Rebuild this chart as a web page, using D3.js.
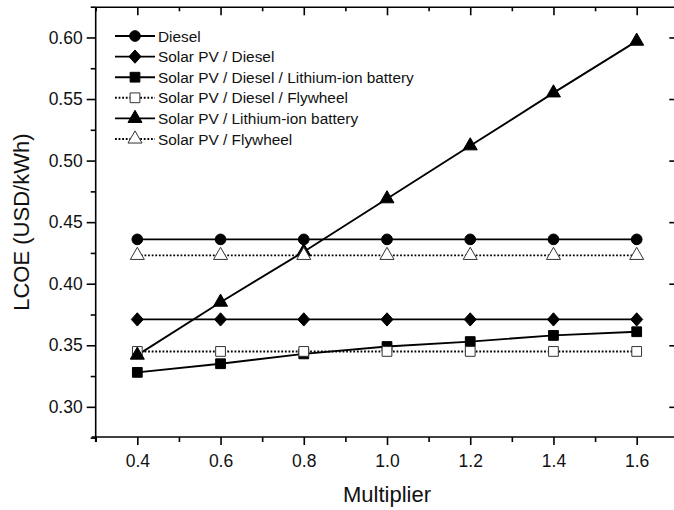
<!DOCTYPE html>
<html><head><meta charset="utf-8">
<script src="https://cdn.jsdelivr.net/npm/d3@7"></script>
<style>
html,body{margin:0;padding:0;background:#fff;}
svg{display:block;font-family:"Liberation Sans",Arial,sans-serif;}
</style></head>
<body>
<svg id="chart" width="674" height="510"></svg>
<script>
const multipliers = [0.4, 0.6, 0.8, 1.0, 1.2, 1.4, 1.6];
const diesel = [0.436, 0.436, 0.436, 0.436, 0.436, 0.436, 0.436];
const pvDiesel = [0.371, 0.371, 0.371, 0.371, 0.371, 0.371, 0.371];
const pvDieselLi = [0.328, 0.335, 0.343, 0.349, 0.353, 0.358, 0.361];
const pvDieselFly = [0.345, 0.345, 0.345, 0.345, 0.345, 0.345, 0.345];
const pvLi = [0.342, 0.385, 0.426, 0.469, 0.512, 0.555, 0.597];
const pvFly = [0.423, 0.423, 0.423, 0.423, 0.423, 0.423, 0.423];
const seriesNames = ["Diesel", "Solar PV / Diesel", "Solar PV / Diesel / Lithium-ion battery",
  "Solar PV / Diesel / Flywheel", "Solar PV / Lithium-ion battery", "Solar PV / Flywheel"];
const xTicks = [0.4, 0.6, 0.8, 1.0, 1.2, 1.4, 1.6];
const yTicks = [0.30, 0.35, 0.40, 0.45, 0.50, 0.55, 0.60];

const series = [
  {name: seriesNames[0], values: diesel, marker: "circle", fill: "#000", dotted: false},
  {name: seriesNames[1], values: pvDiesel, marker: "diamond", fill: "#000", dotted: false},
  {name: seriesNames[2], values: pvDieselLi, marker: "square", fill: "#000", dotted: false},
  {name: seriesNames[3], values: pvDieselFly, marker: "square", fill: "#fff", dotted: true},
  {name: seriesNames[4], values: pvLi, marker: "triangle", fill: "#000", dotted: false},
  {name: seriesNames[5], values: pvFly, marker: "triangle", fill: "#fff", dotted: true}
];

const svg = d3.select("#chart");
const L = 95.7, R = 678.3, T = 7.3, B = 437;
const x = d3.scaleLinear().domain([0.3, 1.7]).range([L, R]);
const y = d3.scaleLinear().domain([0.2755, 0.6245]).range([B, T]);

const xMinor = d3.range(0.3, 1.71, 0.1).map(v => +v.toFixed(2)).filter(v => !xTicks.some(t => Math.abs(t - v) < 1e-6));
const yMinor = d3.range(0.275, 0.626, 0.025).map(v => +v.toFixed(3)).filter(v => !yTicks.some(t => Math.abs(t - v) < 1e-6));

const fmt2 = d3.format(".2f"), fmt1 = d3.format(".1f");

function styleAxis(g){
  g.select(".domain").remove();
  g.selectAll("line").attr("stroke", "#000").attr("stroke-width", 1.6);
  g.selectAll("text").attr("fill", "#111").style("font-size", "17.5px").style("font-family", "'Liberation Sans', Arial, sans-serif");
}

// bottom axis
svg.append("g").attr("transform", `translate(0,${B})`)
  .call(d3.axisBottom(x).tickValues(xTicks).tickFormat(fmt1).tickSize(8).tickPadding(10)).call(styleAxis);
svg.append("g").attr("transform", `translate(0,${B})`)
  .call(d3.axisBottom(x).tickValues(xMinor).tickFormat("").tickSize(5)).call(styleAxis);
// top axis (inward)
svg.append("g").attr("transform", `translate(0,${T})`)
  .call(d3.axisBottom(x).tickValues(xTicks).tickFormat("").tickSize(8)).call(styleAxis);
svg.append("g").attr("transform", `translate(0,${T})`)
  .call(d3.axisBottom(x).tickValues(xMinor).tickFormat("").tickSize(4)).call(styleAxis);
// left axis
svg.append("g").attr("transform", `translate(${L},0)`)
  .call(d3.axisLeft(y).tickValues(yTicks).tickFormat(fmt2).tickSize(9).tickPadding(4)).call(styleAxis);
svg.append("g").attr("transform", `translate(${L},0)`)
  .call(d3.axisLeft(y).tickValues(yMinor).tickFormat("").tickSize(5)).call(styleAxis);
// right axis (inward)
svg.append("g").attr("transform", `translate(${R},0)`)
  .call(d3.axisLeft(y).tickValues(yTicks).tickFormat("").tickSize(9)).call(styleAxis);
svg.append("g").attr("transform", `translate(${R},0)`)
  .call(d3.axisLeft(y).tickValues(yMinor).tickFormat("").tickSize(4)).call(styleAxis);

// frame
svg.append("line").attr("x1", L - 4).attr("x2", R).attr("y1", B).attr("y2", B).attr("stroke", "#000").attr("stroke-width", 1.6);
svg.append("line").attr("x1", L).attr("x2", R).attr("y1", T).attr("y2", T).attr("stroke", "#000").attr("stroke-width", 1.6);
svg.append("line").attr("x1", L).attr("x2", L).attr("y1", T).attr("y2", B + 5).attr("stroke", "#000").attr("stroke-width", 1.6);
svg.append("line").attr("x1", R).attr("x2", R).attr("y1", T).attr("y2", B).attr("stroke", "#000").attr("stroke-width", 1.6);

// axis titles
svg.append("text").attr("x", 387).attr("y", 502).attr("text-anchor", "middle")
  .style("font-size", "22px").attr("fill", "#111").text("Multiplier");
svg.append("text").attr("transform", `translate(29,${(T + B) / 2}) rotate(-90)`).attr("text-anchor", "middle")
  .style("font-size", "22px").attr("fill", "#111").text("LCOE (USD/kWh)");

const diamondType = {draw(ctx, size){ const r = Math.sqrt(size / 2); ctx.moveTo(0, -r*1.05); ctx.lineTo(r*0.95, 0); ctx.lineTo(0, r*1.05); ctx.lineTo(-r*0.95, 0); ctx.closePath(); }};
const sym = {
  circle: d3.symbol().type(d3.symbolCircle).size(90),
  diamond: d3.symbol().type(diamondType).size(80),
  square: d3.symbol().type(d3.symbolSquare).size(95),
  triangle: d3.symbol().type(d3.symbolTriangle).size(85)
};

const line = d3.line().x((d, i) => x(multipliers[i])).y(d => y(d));
const plot = svg.append("g");
series.forEach(s => {
  plot.append("path").datum(s.values).attr("d", line).attr("fill", "none").attr("stroke", "#000")
    .attr("stroke-width", 1.9).attr("stroke-dasharray", s.dotted ? "1.8,1.8" : null);
});
series.forEach(s => {
  plot.selectAll(null).data(s.values).enter().append("path")
    .attr("d", sym[s.marker])
    .attr("transform", (d, i) => `translate(${x(multipliers[i])},${y(d)})`)
    .attr("fill", s.fill).attr("stroke", s.fill === "#fff" ? "#333" : "#000").attr("stroke-width", 1);
});

// legend
const leg = svg.append("g").attr("transform", "translate(115,36)");
series.forEach((s, i) => {
  const g = leg.append("g").attr("transform", `translate(0,${i * 20.6})`);
  g.append("line").attr("x1", 0).attr("x2", 40).attr("y1", 0).attr("y2", 0).attr("stroke", "#000")
    .attr("stroke-width", 1.9).attr("stroke-dasharray", s.dotted ? "1.8,1.8" : null);
  g.append("path").attr("d", sym[s.marker]).attr("transform", "translate(20,0)")
    .attr("fill", s.fill).attr("stroke", s.fill === "#fff" ? "#333" : "#000").attr("stroke-width", 1);
  g.append("text").attr("x", 43).attr("y", 5.5).style("font-size", "15.4px").attr("fill", "#111").text(s.name);
});
</script>
</body></html>
